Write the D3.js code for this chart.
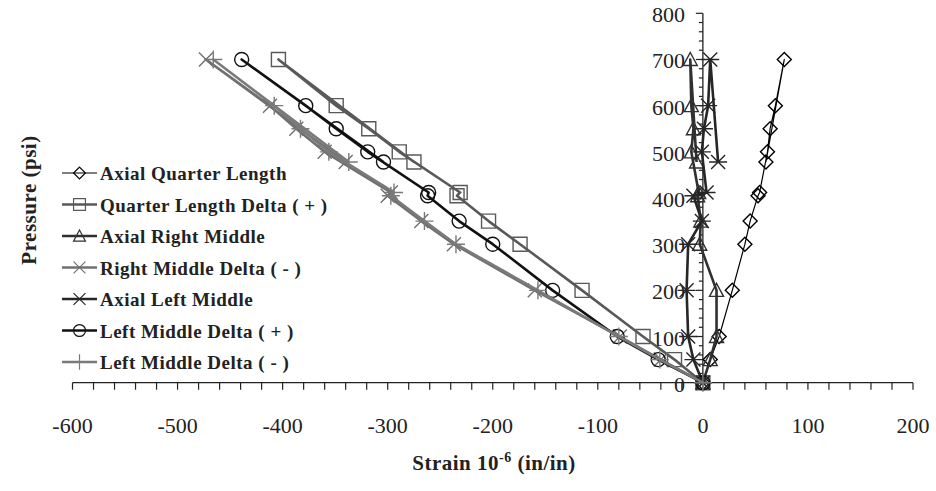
<!DOCTYPE html>
<html>
<head>
<meta charset="utf-8">
<script src="https://cdn.jsdelivr.net/npm/d3@7"></script>
<style>
body{margin:0;background:#fff;}
text{font-family:"Liberation Serif","Times New Roman",serif;fill:#222;}
</style>
</head>
<body>
<div id="chart"></div>
<script>
(function(){

const width = 936;
const height = 491;

// pressure steps (psi), last reading is the unload step
const pressure = [0, 50, 100, 200, 300, 350, 405, 412, 500, 550, 600, 700, 478];

const axialQuarter   = [0, 7, 15.5, 28, 40, 45, 52.5, 54, 61.5, 64, 69, 77.5, 60];
const quarterDeltaP  = [0, -27, -57, -115, -174, -204, -234, -231, -289, -318, -349, -404, -275];
const axialRightMid  = [0, 7, 13, 13, -3, -2, -5, -4, -11, -9, -11, -12, -6];
const rightMidDeltaM = [0, -40, -79, -160, -237, -268, -300, -297, -360, -387, -412, -473, -340];
const axialLeftMid   = [0, -9, -14, -15.5, -14, -1, -9, 3.5, -1, 1, 5, 7, 14.5];
const leftMidDeltaP  = [0, -42.5, -81.5, -143, -200, -232, -262, -261, -319, -349, -378, -439, -304];
const leftMidDeltaM  = [0, -41, -80, -157, -235, -265, -297, -294, -356, -383, -408, -466, -337];

const seriesNames = ["Axial Quarter Length","Quarter Length Delta ( + )","Axial Right Middle",
  "Right Middle Delta ( - )","Axial Left Middle","Left Middle Delta ( + )","Left Middle Delta ( - )"];
const seriesValues = [axialQuarter, quarterDeltaP, axialRightMid, rightMidDeltaM, axialLeftMid, leftMidDeltaP, leftMidDeltaM];

const xTicks = [-600,-500,-400,-300,-200,-100,0,100,200];
const yTicks = [0,100,200,300,400,500,600,700,800];

const styles = [
  {color:"#000", w:1.2, marker:"diamond"},
  {color:"#595959", w:2.6, marker:"square"},
  {color:"#303030", w:2.6, marker:"triangle"},
  {color:"#707070", w:2.6, marker:"x"},
  {color:"#262626", w:2.6, marker:"star"},
  {color:"#111", w:2.6, marker:"circle"},
  {color:"#7a7a7a", w:2.6, marker:"plus"}
];

// marker glyphs, centred on 0,0
const glyph = {
  diamond:"M0,-7L7,0L0,7L-7,0Z",
  square:"M-7,-7H7V7H-7Z",
  triangle:"M0,-7L7,6H-7Z",
  x:"M-7,-7L7,7M-7,7L7,-7",
  star:"M-7,-7L7,7M-7,7L7,-7M-9,0H9",
  circle:"M7,0A7,7 0 1,1 -7,0A7,7 0 1,1 7,0Z",
  plus:"M-9,0H9M0,-9V9"
};

const svg = d3.select("#chart")
.append("svg")
.attr("width",width)
.attr("height",height);

const x = d3.scaleLinear().domain([-600,200]).range([72.5,913]);
const y = d3.scaleLinear().domain([0,800]).range([382.7,13.3]);

// -------------------
// AXES
// -------------------

const xAxis = svg.append("g").attr("transform",`translate(0,${y(0)})`);
xAxis.append("line").attr("x1",x(-600)).attr("x2",x(200)).attr("stroke","#222").attr("stroke-width",1.3);
xAxis.selectAll("line.tk")
.data(d3.range(-600,201,20))
.enter()
.append("line")
.attr("class","tk")
.attr("x1",d=>x(d)).attr("x2",d=>x(d))
.attr("y1",0).attr("y2",7)
.attr("stroke","#222").attr("stroke-width",1.2);

svg.selectAll("text.xl")
.data(xTicks)
.enter()
.append("text")
.attr("class","xl")
.attr("x",d=>x(d))
.attr("y",433)
.attr("text-anchor","middle")
.style("font-size","22px")
.text(d=>d);

const yAxis = svg.append("g").attr("transform",`translate(${x(0)},0)`);
yAxis.append("line").attr("y1",y(0)).attr("y2",y(800)).attr("stroke","#222").attr("stroke-width",1.3);
yAxis.selectAll("line.tk")
.data(d3.range(0,801,20))
.enter()
.append("line")
.attr("class","tk")
.attr("y1",d=>y(d)).attr("y2",d=>y(d))
.attr("x1",d=>d%100===0 ? -7 : -4).attr("x2",0)
.attr("stroke","#222").attr("stroke-width",1.2);

svg.selectAll("text.yl")
.data(yTicks)
.enter()
.append("text")
.attr("class","yl")
.attr("x",x(0)-18)
.attr("y",d=>y(d)+9)
.attr("text-anchor","end")
.style("font-size","22px")
.text(d=>d);

// -------------------
// SERIES
// -------------------

const line = d3.line().x(d=>x(d[0])).y(d=>y(d[1]));

seriesValues.forEach((vals,i)=>{
  const pts = vals.map((v,j)=>[v,pressure[j]]);
  const st = styles[i];
  const g = svg.append("g");
  g.append("path")
  .attr("d",line(pts))
  .attr("fill","none")
  .attr("stroke",st.color)
  .attr("stroke-width",st.w)
  .attr("stroke-linejoin","round");
  g.selectAll("path.m")
  .data(pts)
  .enter()
  .append("path")
  .attr("class","m")
  .attr("transform",d=>`translate(${x(d[0])},${y(d[1])})`)
  .attr("d",glyph[st.marker])
  .attr("fill","none")
  .attr("stroke",st.color)
  .attr("stroke-width",1.4);
});

// -------------------
// LEGEND
// -------------------

const legend = svg.append("g").attr("transform","translate(62,173)");

seriesNames.forEach((name,i)=>{
  const st = styles[i];
  const row = legend.append("g").attr("transform",`translate(0,${i*31.5})`);
  row.append("line").attr("x1",0).attr("x2",35).attr("y1",0).attr("y2",0)
  .attr("stroke",st.color).attr("stroke-width",st.w);
  row.append("path").attr("transform","translate(17.5,0) scale(0.85)")
  .attr("d",glyph[st.marker]).attr("fill","none")
  .attr("stroke",st.color).attr("stroke-width",1.4);
  row.append("text").attr("x",38).attr("y",7)
  .style("font-size","19px").style("font-weight","bold")
  .style("letter-spacing","0.5px")
  .text(name);
});

// -------------------
// AXIS TITLES
// -------------------

const xt = svg.append("text")
.attr("x",494)
.attr("y",470)
.attr("text-anchor","middle")
.style("font-size","21px")
.style("font-weight","bold")
.style("letter-spacing","0.5px");
xt.append("tspan").text("Strain 10");
xt.append("tspan").attr("dy",-8).style("font-size","14px").text("-6");
xt.append("tspan").attr("dy",8).text(" (in/in)");

svg.append("text")
.attr("transform","translate(36,200) rotate(-90)")
.attr("text-anchor","middle")
.style("font-size","21px")
.style("font-weight","bold")
.style("letter-spacing","0.5px")
.text("Pressure (psi)");

})();
</script>
</body>
</html>
